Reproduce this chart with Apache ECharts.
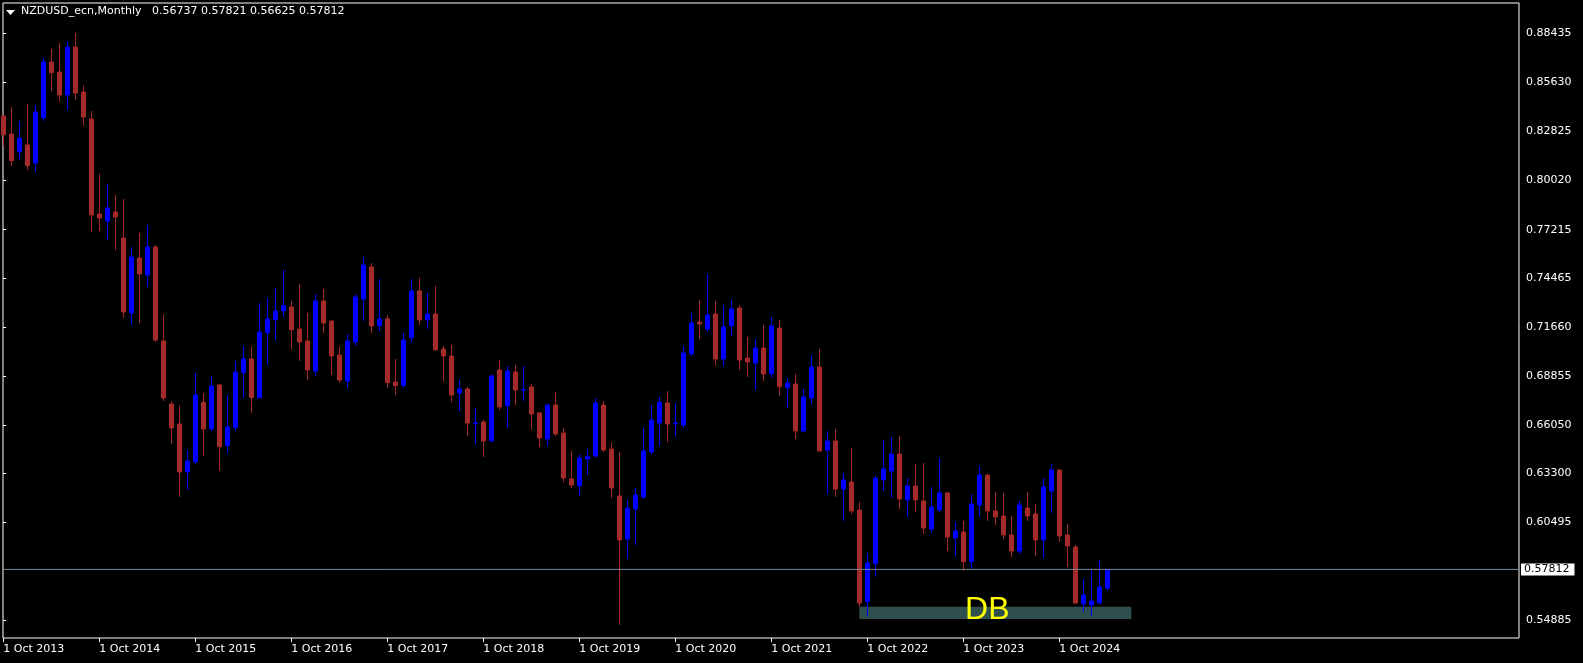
<!DOCTYPE html>
<html><head><meta charset="utf-8">
<script src="https://cdn.jsdelivr.net/npm/echarts@6/dist/echarts.min.js"></script>
<style>html,body{margin:0;padding:0;background:#000;}#c{width:1583px;height:663px;}</style>
</head><body><div id="c"></div>
<script>
// ---- data ----
const symbolName = 'NZDUSD_ecn,Monthly';
const lastQuote = [0.56737, 0.57821, 0.56625, 0.57812]; // O H L C of the last bar
const currentPrice = 0.57812;
const startYear = 2013, startMonthIdx = 9; // first bar: Oct 2013
const monthNames = ['Jan','Feb','Mar','Apr','May','Jun','Jul','Aug','Sep','Oct','Nov','Dec'];
const slotCount = 190; // bar slots on the time axis (bars + empty right margin)

const opens = [0.8371,0.8268,0.8167,0.8206,0.8103,0.8361,0.8680,0.8622,0.8491,0.8765,
0.8508,0.8354,0.7811,0.7771,0.7823,0.7674,0.7246,0.7560,0.7463,0.7623,
0.7086,0.6726,0.6612,0.6338,0.6395,0.6736,0.6583,0.6835,0.6488,0.6591,
0.6905,0.6983,0.6762,0.7133,0.7208,0.7257,0.7280,0.7154,0.7086,0.6915,
0.7314,0.7200,0.7006,0.6857,0.7080,0.7326,0.7509,0.7172,0.7212,0.6852,
0.6831,0.7105,0.7372,0.7206,0.7240,0.7040,0.7000,0.6789,0.6812,0.6614,
0.6623,0.6515,0.6920,0.6716,0.6909,0.6805,0.6823,0.6675,0.6526,0.6720,
0.6560,0.6298,0.6258,0.6412,0.6429,0.6720,0.6469,0.6201,0.5955,0.6126,
0.6195,0.6452,0.6617,0.6732,0.6612,0.6606,0.7012,0.7194,0.7154,0.7240,
0.6983,0.7172,0.7274,0.6989,0.6960,0.7046,0.6899,0.7160,0.6819,0.6840,
0.6572,0.6760,0.6937,0.6463,0.6515,0.6240,0.6280,0.6120,0.5597,0.5814,
0.6292,0.6343,0.6440,0.6178,0.6258,0.6172,0.6012,0.6120,0.6218,0.5961,
0.5995,0.5825,0.6149,0.6320,0.6115,0.6086,0.5978,0.5886,0.6132,0.6098,
0.5949,0.6229,0.6349,0.5978,0.5909,0.5584,0.5578,0.5589,0.56737];
const highs = [0.8377,0.8421,0.8343,0.8440,0.8434,0.8704,0.8754,0.8788,0.8800,0.8845,
0.8543,0.8400,0.8040,0.7983,0.7920,0.7897,0.7623,0.7703,0.7749,0.7634,
0.7240,0.6743,0.6715,0.6463,0.6903,0.6787,0.6886,0.6840,0.6777,0.6972,
0.7057,0.7057,0.7303,0.7332,0.7389,0.7492,0.7314,0.7412,0.7246,0.7354,
0.7383,0.7202,0.7057,0.7126,0.7354,0.7566,0.7531,0.7440,0.7234,0.6983,
0.7132,0.7440,0.7446,0.7360,0.7400,0.7057,0.7063,0.6863,0.6823,0.6703,
0.6635,0.6892,0.6977,0.6943,0.6949,0.6943,0.6840,0.6680,0.6726,0.6795,
0.6589,0.6458,0.6439,0.6469,0.6760,0.6743,0.6509,0.6452,0.6178,0.6246,
0.6589,0.6720,0.6766,0.6800,0.6732,0.7057,0.7246,0.7320,0.7469,0.7314,
0.7291,0.7320,0.7291,0.7109,0.7097,0.7177,0.7223,0.7206,0.6875,0.6897,
0.6812,0.7006,0.7040,0.6572,0.6583,0.6332,0.6475,0.6166,0.5875,0.6315,
0.6520,0.6537,0.6543,0.6303,0.6383,0.6389,0.6252,0.6418,0.6224,0.6052,
0.6058,0.6212,0.6372,0.6326,0.6224,0.6218,0.6086,0.6172,0.6224,0.6155,
0.6303,0.6383,0.6355,0.6041,0.5921,0.5726,0.5778,0.5835,0.57821];
const lows = [0.8196,0.8087,0.8122,0.8064,0.8053,0.8343,0.8514,0.8451,0.8405,0.8463,
0.8314,0.7708,0.7714,0.7663,0.7606,0.7219,0.7177,0.7189,0.7394,0.7080,
0.6743,0.6498,0.6195,0.6235,0.6383,0.6431,0.6572,0.6345,0.6444,0.6572,
0.6762,0.6676,0.6760,0.6949,0.7088,0.7223,0.7035,0.6972,0.6863,0.6886,
0.7132,0.6892,0.6846,0.6817,0.7057,0.7200,0.7132,0.7143,0.6819,0.6779,
0.6819,0.7075,0.7177,0.7154,0.7033,0.6852,0.6737,0.6686,0.6543,0.6498,
0.6423,0.6512,0.6692,0.6591,0.6720,0.6743,0.6577,0.6480,0.6486,0.6543,
0.6280,0.6246,0.6201,0.6321,0.6424,0.6452,0.6189,0.5464,0.5841,0.5921,
0.6184,0.6440,0.6486,0.6509,0.6543,0.6589,0.7000,0.7097,0.7137,0.6943,
0.6943,0.7115,0.6920,0.6880,0.6806,0.6857,0.6876,0.6773,0.6703,0.6526,
0.6566,0.6726,0.6452,0.6212,0.6195,0.6058,0.6098,0.5567,0.5511,0.5740,
0.6229,0.6189,0.6126,0.6081,0.6109,0.5983,0.5989,0.6109,0.5886,0.5858,
0.5774,0.5785,0.6081,0.6058,0.6035,0.5955,0.5852,0.5869,0.6058,0.5858,
0.5846,0.6103,0.5938,0.5795,0.5584,0.5540,0.5517,0.5585,0.56625];
const closes = [0.8264,0.8116,0.8245,0.8087,0.8394,0.8680,0.8618,0.8491,0.8765,0.8502,
0.8365,0.7806,0.7788,0.7846,0.7794,0.7252,0.7566,0.7469,0.7623,0.7092,
0.6760,0.6589,0.6338,0.6400,0.6777,0.6583,0.6829,0.6482,0.6595,0.6909,
0.6983,0.6762,0.7137,0.7212,0.7257,0.7288,0.7150,0.7080,0.6920,0.7314,
0.7189,0.7000,0.6863,0.7086,0.7337,0.7520,0.7172,0.7212,0.6848,0.6831,
0.7092,0.7372,0.7206,0.7240,0.7035,0.7000,0.6777,0.6812,0.6617,0.6618,
0.6515,0.6886,0.6709,0.6915,0.6806,0.6808,0.6669,0.6532,0.6720,0.6555,
0.6303,0.6263,0.6418,0.6424,0.6732,0.6463,0.6246,0.5949,0.6132,0.6206,
0.6458,0.6635,0.6737,0.6612,0.6617,0.7017,0.7189,0.7183,0.7234,0.6983,
0.7166,0.7269,0.6977,0.6966,0.7046,0.6897,0.7172,0.6825,0.6846,0.6572,
0.6766,0.6937,0.6458,0.6515,0.6240,0.6292,0.6115,0.5589,0.5818,0.6303,
0.6355,0.6440,0.6184,0.6258,0.6178,0.6018,0.6138,0.6218,0.5966,0.6001,
0.5825,0.6155,0.6320,0.6115,0.6081,0.5978,0.5886,0.6149,0.6086,0.5949,
0.6252,0.6349,0.5972,0.5915,0.5589,0.5635,0.5601,0.5681,0.57812];

const priceTicks = [0.88435,0.85630,0.82825,0.80020,0.77215,0.74465,0.71660,0.68855,0.66050,0.63300,0.60495,0.54885];
const yMin = 0.53893, yMax = 0.90166;
// DB support zone (bar indices and prices)
const dbFrom = 107, dbTo = 141, dbTop = 0.55681, dbBottom = 0.54978;
const dbLabel = 'DB', dbLabelBar = 123, dbLabelPrice = 0.5548;

// ---- build ----
const cats = [];
for (let i = 0; i < slotCount; i++) {
  const m = startMonthIdx + i;
  cats.push('1 ' + monthNames[m % 12] + ' ' + (startYear + Math.floor(m / 12)));
}
const barCount = opens.length;
const candles = opens.map((o, i) => [o, closes[i], lows[i], highs[i]]);
const FONT = 'DejaVu Sans';
const isOct = (idx) => idx % 12 === 0 && idx < barCount;

const chart = echarts.init(document.getElementById('c'), null, {renderer: 'canvas'});
chart.setOption({
  animation: false,
  backgroundColor: '#000000',
  grid: [
    {left: 3, right: 64, top: 3, bottom: 25, show: true, borderColor: '#ffffff', borderWidth: 1, backgroundColor: 'transparent'},
    {left: 3.33, right: 1583 - (3.33 + (slotCount - 1) * 8), top: 3, bottom: 25}
  ],
  xAxis: [
    {gridIndex: 0, type: 'value', min: 0, max: 1, show: false},
    {gridIndex: 1, type: 'category', data: cats, boundaryGap: false,
     axisLine: {show: false},
     axisTick: {show: true, interval: isOct, length: 4, lineStyle: {color: '#ffffff'}},
     axisLabel: {show: true, interval: isOct, align: 'left', color: '#ffffff', fontFamily: FONT, fontSize: 11, margin: 6,
       formatter: (v) => v},
     splitLine: {show: false}}
  ],
  yAxis: [
    {gridIndex: 0, type: 'value', position: 'right', min: yMin, max: yMax,
     axisLine: {show: false},
     axisTick: {show: true, customValues: priceTicks, length: 3, lineStyle: {color: '#ffffff'}},
     axisLabel: {show: true, customValues: priceTicks, color: '#ffffff', fontFamily: FONT, fontSize: 11, margin: 7,
       formatter: (v) => Number(v).toFixed(5)},
     splitLine: {show: false}},
    {gridIndex: 1, type: 'value', min: yMin, max: yMax, show: false, splitLine: {show: false}}
  ],
  series: [
    {
      type: 'candlestick', xAxisIndex: 1, yAxisIndex: 1,
      data: candles, barWidth: 4, clip: true,
      itemStyle: {color: '#0000FF', color0: '#A52A2A', borderColor: '#0000FF', borderColor0: '#A52A2A', borderWidth: 1},
      emphasis: {disabled: true},
      markArea: {silent: true, itemStyle: {color: '#2F4F4F', opacity: 1}, label: {show: false},
        data: [[{coord: [cats[dbFrom], dbTop]}, {coord: [cats[dbTo], dbBottom]}]]},
      markPoint: {silent: true, symbol: 'rect', symbolSize: 1, itemStyle: {color: 'rgba(0,0,0,0)'},
        label: {show: true, position: 'inside', formatter: dbLabel, color: '#FFFF00', fontSize: 32, fontFamily: 'Liberation Sans'},
        data: [{coord: [cats[dbLabelBar], dbLabelPrice]}]}
    },
    {
      type: 'line', xAxisIndex: 0, yAxisIndex: 0, silent: true,
      data: [[0, currentPrice], [1, currentPrice]], symbol: 'none',
      lineStyle: {color: '#778899', width: 1},
      endLabel: {show: true, formatter: currentPrice.toFixed(5), backgroundColor: '#ffffff', color: '#000000',
        padding: [1, 5, 0, 3], distance: 2, fontSize: 11, fontFamily: FONT}
    }
  ],
  graphic: [
    {type: 'polygon', shape: {points: [[6, 10], [15, 10], [10.5, 15]]}, style: {fill: '#ffffff'}, silent: true},
    {type: 'text', left: 21, top: 6, silent: true,
     style: {text: symbolName + '   ' + lastQuote.map(v => v.toFixed(5)).join(' '), fill: '#ffffff', font: '11px "DejaVu Sans"'}}
  ]
});
</script>
</body></html>
